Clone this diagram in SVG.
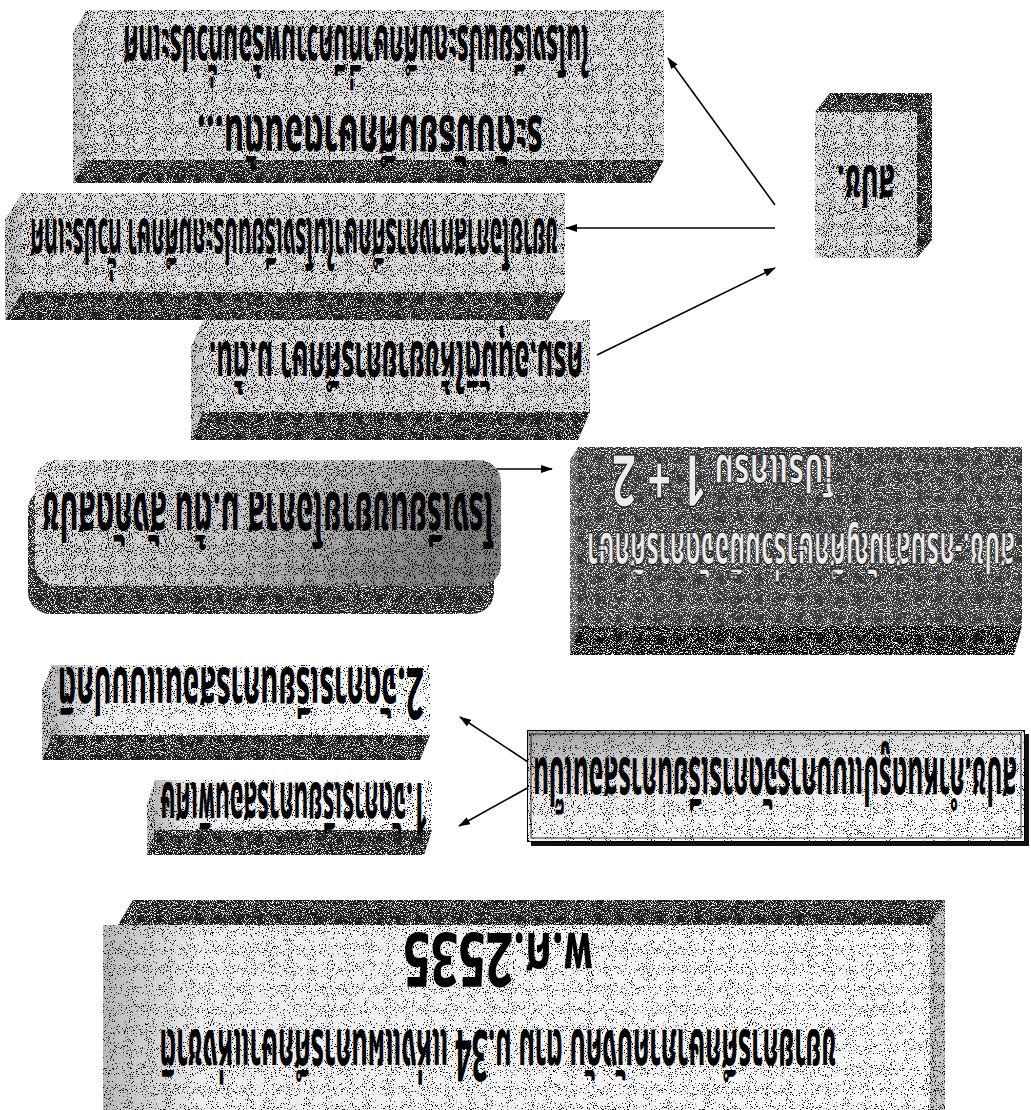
<svg xmlns="http://www.w3.org/2000/svg" width="1031" height="1110" viewBox="0 0 1031 1110">
<defs>
<filter id="spk" x="0" y="0" width="1" height="1" color-interpolation-filters="sRGB">
<feTurbulence type="fractalNoise" baseFrequency="0.95" numOctaves="2" seed="3" result="t"/>
<feColorMatrix in="t" type="matrix" values="0 0 0 0 0  0 0 0 0 0  0 0 0 0 0  -14 0 0 0 6.0" result="m"/>
<feComposite in="m" in2="SourceAlpha" operator="in" result="d"/>
<feMerge><feMergeNode in="SourceGraphic"/><feMergeNode in="d"/></feMerge>
</filter>
<filter id="spk2" x="0" y="0" width="1" height="1" color-interpolation-filters="sRGB">
<feTurbulence type="fractalNoise" baseFrequency="0.95" numOctaves="2" seed="5" result="t"/>
<feColorMatrix in="t" type="matrix" values="0 0 0 0 0  0 0 0 0 0  0 0 0 0 0  -16 0 0 0 5.9" result="m"/>
<feComposite in="m" in2="SourceAlpha" operator="in" result="d"/>
<feMerge><feMergeNode in="SourceGraphic"/><feMergeNode in="d"/></feMerge>
</filter>
<filter id="spkw" x="0" y="0" width="1" height="1" color-interpolation-filters="sRGB">
<feTurbulence type="fractalNoise" baseFrequency="0.95" numOctaves="2" seed="7" result="t"/>
<feColorMatrix in="t" type="matrix" values="0 0 0 0 1  0 0 0 0 1  0 0 0 0 1  -12 0 0 0 5.4" result="m"/>
<feComposite in="m" in2="SourceAlpha" operator="in" result="d"/>
<feMerge><feMergeNode in="SourceGraphic"/><feMergeNode in="d"/></feMerge>
</filter>
<linearGradient id="rg" x1="0" y1="0" x2="1" y2="0.3">
<stop offset="0" stop-color="#e6e6e6"/><stop offset="0.55" stop-color="#c8c8c8"/><stop offset="1" stop-color="#858585"/>
</linearGradient>
<linearGradient id="mg" x1="0" y1="0" x2="0.5" y2="1">
<stop offset="0" stop-color="#a0a0a0"/><stop offset="0.45" stop-color="#e6e6e6"/><stop offset="1" stop-color="#ffffff"/>
</linearGradient>
<linearGradient id="wg" x1="0" y1="0" x2="1" y2="0">
<stop offset="0" stop-color="#b8b8b8"/><stop offset="0.12" stop-color="#eeeeee"/><stop offset="1" stop-color="#fbfbfb"/>
</linearGradient>
<marker id="ah" viewBox="0 0 12 8" refX="11" refY="4" markerWidth="12" markerHeight="8" markerUnits="userSpaceOnUse" orient="auto-start-reverse">
<path d="M0,0 L12,4 L0,8 z" fill="#000"/>
</marker>
<style>
.lf{fill:#dedede;filter:url(#spk)}
.sf{fill:#c6c6c6;filter:url(#spk)}
.df{fill:#1c1c1c;filter:url(#spkw)}
.wf{fill:url(#wg);filter:url(#spk2)}
.t{font-family:'Noto Sans Thai','Noto Serif Thai','Garuda','Loma','Tlwg Typo','Norasi','Noto Sans','DejaVu Sans',sans-serif;font-weight:bold;fill:#000;text-anchor:middle}
.tw{fill:#ececec;stroke:#000;stroke-width:1}
.c{fill:none;stroke:#000;stroke-width:1.6}
</style>
</defs>

<g id="connectors">
<line class="c" x1="775" y1="205" x2="668" y2="58" marker-end="url(#ah)"/>
<line class="c" x1="775" y1="228" x2="566" y2="228" marker-end="url(#ah)"/>
<line class="c" x1="597" y1="355" x2="775" y2="268" marker-end="url(#ah)"/>
<line class="c" x1="472" y1="469" x2="552" y2="469" marker-start="url(#ah)" marker-end="url(#ah)"/>
<line class="c" x1="549" y1="776" x2="460" y2="717" marker-end="url(#ah)"/>
<line class="c" x1="549" y1="776" x2="459" y2="826" marker-end="url(#ah)"/>
</g>

<g id="node-top">
<polygon class="sf" points="86,10 73,33 73,183 86,160"/>
<polygon class="df" points="86,160 664,160 651,183 73,183"/>
<rect class="lf" x="86" y="10" width="578" height="150"/>
<text class="t" font-size="62" transform="translate(356 26) rotate(180) scale(0.35 1)" textLength="1331" lengthAdjust="spacingAndGlyphs">ในโรงเรียนประถมศึกษาที่มีความพร้อมทั่วประเทศ</text>
<text class="t" font-size="64" transform="translate(370 116) rotate(180) scale(0.35 1)" textLength="989" lengthAdjust="spacingAndGlyphs">ระดับมัธยมศึกษาตอนต้น...</text>
</g>

<g id="node-cube">
<polygon class="df" points="815,112 830,93 932,93 917,112"/>
<polygon class="df" points="917,112 932,93 932,240 917,258"/>
<rect class="lf" x="815" y="112" width="102" height="146"/>
<text class="t" font-size="56" transform="translate(866 166) rotate(180) scale(0.35 1)" textLength="166" lengthAdjust="spacingAndGlyphs">สปช.</text>
</g>

<g id="node-2">
<polygon class="sf" points="22,193 5,220 5,320 22,292"/>
<polygon class="df" points="22,292 565,292 548,320 5,320"/>
<rect class="lf" x="22" y="193" width="543" height="99"/>
<text class="t" font-size="62" transform="translate(294 219) rotate(180) scale(0.35 1)" textLength="1509" lengthAdjust="spacingAndGlyphs">ขยายโอกาสทางการศึกษาในโรงเรียนประถมศึกษา ทั่วประเทศ</text>
</g>

<g id="node-3">
<polygon class="sf" points="203,320 191,347 191,440 203,412"/>
<polygon class="df" points="203,412 590,412 578,440 191,440"/>
<rect class="lf" x="203" y="320" width="387" height="92"/>
<text class="t" font-size="62" transform="translate(396 342) rotate(180) scale(0.35 1)" textLength="1069" lengthAdjust="spacingAndGlyphs">ครม.อนุมัติให้ขยายการศึกษา ม.ต้น.</text>
</g>

<g id="node-round">
<rect x="28" y="488" width="466" height="126" rx="22" fill="#222" filter="url(#spkw)"/>
<rect x="35" y="460" width="466" height="126" rx="22" fill="url(#rg)" filter="url(#spk)"/>
<text class="t" font-size="68" transform="translate(268 493) rotate(180) scale(0.35 1)" textLength="1291" lengthAdjust="spacingAndGlyphs">โรงเรียนขยายโอกาส ม.ต้น สังกัดสปช</text>
</g>

<g id="node-dark">
<polygon points="578,447 570,460 570,655 578,626" fill="#555" filter="url(#spkw)"/>
<polygon class="df" points="578,626 1022,626 1014,655 570,655" style="fill:#0e0e0e"/>
<rect x="578" y="447" width="444" height="179" fill="#383838" filter="url(#spkw)"/>
<text class="t tw" font-size="52" transform="translate(723 455) rotate(180) scale(0.35 1)" textLength="634" lengthAdjust="spacingAndGlyphs">โปรแกรม <tspan font-size="72">1 + 2</tspan></text>
<text class="t tw" font-size="56" transform="translate(801 533) rotate(180) scale(0.35 1)" textLength="1223" lengthAdjust="spacingAndGlyphs">สปช.-กรมสามัญศึกษาร่วมมือจัดการศึกษา</text>
</g>

<g id="node-opt2">
<polygon class="sf" points="52,665 42,690 42,760 52,735"/>
<polygon class="df" points="52,735 430,735 420,760 42,760"/>
<rect class="wf" x="52" y="665" width="378" height="70"/>
<text class="t" font-size="64" transform="translate(241 668) rotate(180) scale(0.35 1)" textLength="1046" lengthAdjust="spacingAndGlyphs"><tspan font-size="72">2.</tspan>จัดการเรียนการสอนแบบปกติ</text>
</g>

<g id="node-opt1">
<polygon class="sf" points="155,780 147,805 147,855 155,830"/>
<polygon class="df" points="155,830 432,830 424,855 147,855"/>
<rect class="wf" x="155" y="780" width="277" height="50"/>
<text class="t" font-size="64" transform="translate(294 783) rotate(180) scale(0.35 1)" textLength="766" lengthAdjust="spacingAndGlyphs"><tspan font-size="72">1.</tspan>จัดการเรียนการสอนพิเศษ</text>
</g>

<g id="node-mid">
<rect x="531" y="734" width="498" height="112" fill="#111"/>
<rect x="527" y="730" width="498" height="112" fill="url(#mg)" stroke="#000" stroke-width="2" filter="url(#spk2)"/>
<rect x="531" y="734" width="490" height="104" fill="none" stroke="#000" stroke-width="0.8"/>
<text class="t" font-size="66" transform="translate(775 758) rotate(180) scale(0.35 1)" textLength="1383" lengthAdjust="spacingAndGlyphs">สปช.กำหนดรูปแบบการจัดการเรียนการสอนเป็น</text>
</g>

<g id="node-bottom">
<polygon class="df" points="118,925 930,925 945,900 133,900"/>
<polygon class="sf" points="930,925 945,900 945,1110 930,1110"/>
<rect class="wf" x="103" y="925" width="827" height="185"/>
<text class="t" font-size="64" transform="translate(498 1030) rotate(180) scale(0.35 1)" textLength="1934" lengthAdjust="spacingAndGlyphs">ขยายการศึกษาภาคบังคับ ตาม ม.<tspan font-size="72">34</tspan> แห่งแผนการศึกษาแห่งชาติ</text>
<text class="t" font-size="64" transform="translate(498 933) rotate(180) scale(0.35 1)" textLength="543" lengthAdjust="spacingAndGlyphs">พ.ศ.<tspan font-size="76">2535</tspan></text>
</g>
</svg>
